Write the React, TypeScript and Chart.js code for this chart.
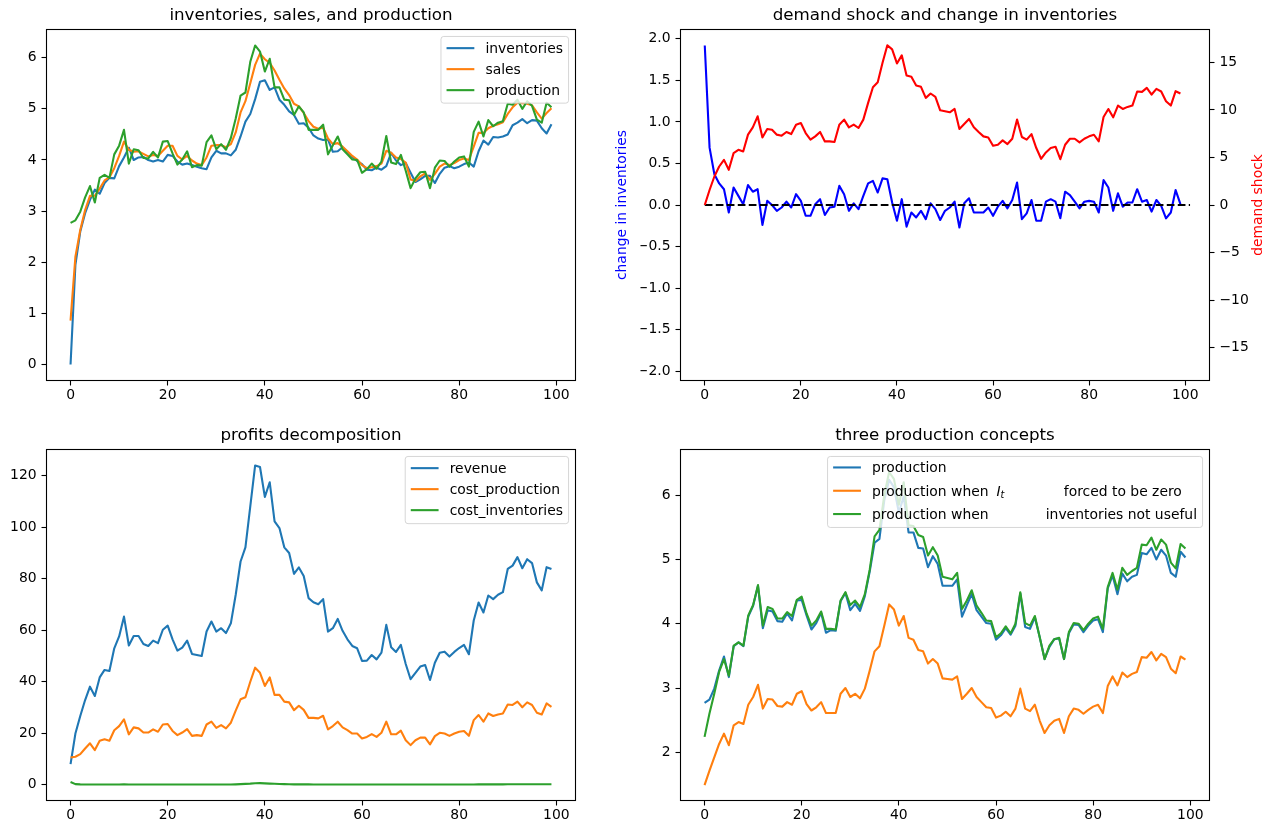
import React, { useEffect, useRef } from "react";
import { Chart, registerables } from "chart.js";

Chart.register(...registerables);

const FONT = '"DejaVu Sans", sans-serif';
const TICK_FS = 13.9;
const TITLE_FS = 16.7;

const C_BLUE = "#1f77b4";
const C_ORANGE = "#ff7f0e";
const C_GREEN = "#2ca02c";

// ---------------- data ----------------
const periods = Array.from({ length: 100 }, (_, i) => i);

const inventories = [
  0.0, 1.95, 2.6, 2.96, 3.22, 3.42, 3.34, 3.55, 3.65, 3.64,
  3.88, 4.05, 4.24, 4.0, 4.05, 4.06, 4.0, 3.97, 4.0, 3.97,
  4.1, 4.08, 3.97, 3.91, 3.93, 3.9, 3.87, 3.84, 3.82, 4.05,
  4.18, 4.13, 4.13, 4.09, 4.2, 4.46, 4.75, 4.9, 5.19, 5.53,
  5.56, 5.37, 5.42, 5.18, 5.08, 4.95, 4.88, 4.71, 4.72, 4.63,
  4.48, 4.42, 4.39, 4.4, 4.16, 4.17, 4.25, 4.15, 4.06, 3.98,
  3.92, 3.81, 3.8, 3.85, 3.81, 3.88, 4.14, 3.99, 3.9, 3.94,
  3.75, 3.57, 3.62, 3.69, 3.69, 3.55, 3.73, 3.85, 3.88, 3.84,
  3.87, 3.92, 3.95, 3.87, 4.17, 4.38, 4.3, 4.45, 4.44, 4.46,
  4.5, 4.68, 4.73, 4.8, 4.72, 4.78, 4.77, 4.62, 4.52, 4.7,
];

const sales = [
  0.86, 2.11, 2.63, 3.02, 3.3, 3.3, 3.44, 3.6, 3.66, 3.84,
  4.08, 4.36, 4.2, 4.16, 4.17, 4.12, 4.07, 4.1, 4.08, 4.18,
  4.28, 4.28, 4.08, 4.01, 4.08, 3.99, 3.93, 3.9, 4.05, 4.28,
  4.29, 4.29, 4.25, 4.31, 4.54, 4.93, 5.15, 5.5, 5.86, 6.08,
  5.97, 5.9, 5.75, 5.57, 5.4, 5.27, 5.1, 5.05, 4.92, 4.76,
  4.65, 4.61, 4.63, 4.42, 4.31, 4.33, 4.26, 4.17, 4.08, 4.01,
  3.9, 3.84, 3.86, 3.88, 3.93, 4.18, 4.14, 4.05, 4.02, 3.95,
  3.62, 3.59, 3.68, 3.74, 3.61, 3.73, 3.87, 3.93, 3.9, 3.94,
  4.0, 4.03, 4.0, 4.26, 4.53, 4.53, 4.62, 4.67, 4.7, 4.74,
  4.9, 5.03, 5.12, 5.11, 5.1, 5.07, 4.93, 4.81, 4.92, 5.01,
];

const production = [
  2.77, 2.82, 2.99, 3.27, 3.49, 3.17, 3.65, 3.71, 3.65, 4.11,
  4.28, 4.59, 3.93, 4.21, 4.19, 4.04, 4.03, 4.16, 4.05, 4.36,
  4.37, 4.13, 3.91, 4.01, 4.17, 3.86, 3.9, 3.89, 4.35, 4.48,
  4.21, 4.31, 4.2, 4.43, 4.81, 5.26, 5.32, 5.92, 6.24, 6.12,
  5.73, 5.98, 5.42, 5.42, 5.18, 5.17, 4.88, 5.05, 4.93, 4.59,
  4.59, 4.59, 4.69, 4.11, 4.29, 4.46, 4.21, 4.11, 4.01, 4.0,
  3.75, 3.82, 3.93, 3.83, 3.97, 4.47, 3.95, 3.92, 4.1, 3.79,
  3.45, 3.64, 3.76, 3.77, 3.45, 3.85, 3.99, 3.98, 3.87, 3.97,
  4.05, 4.07, 3.87, 4.55, 4.75, 4.46, 4.78, 4.66, 4.73, 4.76,
  5.1, 5.08, 5.18, 5.0, 5.15, 5.06, 4.79, 4.73, 5.12, 5.03,
];

const inventoryChange = [
  1.92, 0.69, 0.37, 0.26, 0.19, -0.09, 0.21, 0.11, 0.01, 0.24,
  0.16, 0.19, -0.24, 0.05, 0.0, -0.07, -0.03, 0.04, -0.03, 0.13,
  0.05, -0.13, -0.13, 0.01, 0.07, -0.12, -0.03, -0.02, 0.23, 0.13,
  -0.07, 0.02, -0.05, 0.11, 0.26, 0.29, 0.15, 0.32, 0.31, 0.03,
  -0.19, 0.07, -0.26, -0.09, -0.15, -0.07, -0.17, 0.02, -0.05, -0.18,
  -0.07, -0.03, 0.04, -0.27, 0.02, 0.08, -0.09, -0.09, -0.09, -0.03,
  -0.13, -0.02, 0.05, -0.04, 0.06, 0.27, -0.17, -0.1, 0.06, -0.19,
  -0.19, 0.04, 0.07, 0.04, -0.16, 0.16, 0.12, 0.04, -0.04, 0.04,
  0.05, 0.04, -0.09, 0.3, 0.21, -0.07, 0.14, -0.02, 0.03, 0.03,
  0.19, 0.04, 0.06, -0.08, 0.06, -0.01, -0.16, -0.09, 0.18, 0.01,
];

const demandShock = [
  0.0, 1.58, 3.0, 4.05, 4.75, 3.7, 5.46, 5.8, 5.63, 7.4,
  8.17, 9.33, 7.11, 8.0, 7.92, 7.4, 7.29, 7.68, 7.46, 8.45,
  8.63, 7.57, 6.87, 7.22, 7.68, 6.69, 6.69, 6.62, 8.45, 8.98,
  8.17, 8.45, 8.1, 8.98, 10.74, 12.39, 12.92, 14.96, 16.8, 16.37,
  14.89, 15.74, 13.63, 13.49, 12.57, 12.43, 11.27, 11.73, 11.37, 9.96,
  9.86, 9.75, 10.1, 8.0, 8.52, 9.05, 8.17, 7.68, 7.22, 7.11,
  6.23, 6.34, 6.8, 6.41, 6.97, 8.98, 7.15, 6.87, 7.46, 5.99,
  4.86, 5.53, 5.99, 6.13, 4.82, 6.34, 6.97, 6.97, 6.58, 6.97,
  7.22, 7.39, 6.69, 9.26, 10.1, 9.22, 10.46, 10.1, 10.32, 10.46,
  11.94, 11.9, 12.32, 11.62, 12.22, 11.94, 10.92, 10.46, 11.97, 11.73,
];

const zeroLineX = [0, 101];
const zeroLineY = [0, 0];

const revenue = [
  7.9, 19.8, 26.6, 32.8, 38.0, 34.4, 41.6, 44.5, 44.1, 52.9,
  57.5, 65.2, 54.0, 57.7, 57.7, 54.6, 53.8, 55.9, 54.9, 60.1,
  61.7, 56.4, 52.0, 53.2, 55.9, 50.7, 50.3, 49.9, 59.4, 63.3,
  59.4, 60.7, 58.8, 62.6, 73.7, 86.6, 92.1, 108.0, 123.9, 123.3,
  111.7, 117.4, 102.2, 99.6, 92.1, 89.9, 81.8, 84.3, 81.0, 72.4,
  70.8, 70.0, 72.0, 59.4, 60.7, 64.3, 59.7, 56.4, 53.8, 52.9,
  48.0, 48.1, 50.3, 48.6, 51.2, 62.0, 53.3, 51.5, 54.2, 46.8,
  40.9, 43.4, 45.8, 46.4, 40.6, 47.3, 51.2, 51.6, 49.7, 51.5,
  53.0, 54.2, 50.6, 63.7, 70.7, 66.8, 73.4, 72.0, 73.7, 74.7,
  83.7, 85.0, 88.3, 84.0, 87.5, 86.0, 78.5, 75.4, 84.4, 83.7,
];

const costProduction = [
  10.5, 10.8, 11.8, 14.0, 16.0, 13.4, 17.0, 17.6, 17.0, 21.1,
  22.7, 25.3, 19.5, 22.2, 21.8, 20.2, 20.2, 21.4, 20.5, 23.3,
  23.5, 20.8, 19.2, 20.2, 21.5, 18.9, 19.2, 18.9, 23.3, 24.4,
  22.0, 23.1, 21.8, 24.0, 28.7, 33.1, 33.9, 39.9, 45.4, 43.4,
  38.3, 41.6, 34.8, 34.8, 32.2, 31.9, 28.9, 30.6, 29.0, 25.9,
  25.9, 25.7, 26.7, 21.4, 22.7, 24.4, 22.2, 21.1, 19.8, 19.8,
  17.9, 18.5, 19.6, 18.5, 20.1, 24.4, 19.5, 19.5, 20.9, 17.2,
  15.3, 17.2, 18.2, 18.2, 15.6, 18.8, 20.1, 19.8, 18.9, 19.8,
  20.5, 20.8, 18.9, 25.0, 27.0, 24.4, 27.6, 26.6, 27.2, 27.6,
  31.1, 30.9, 32.2, 30.0, 31.9, 30.9, 27.9, 27.2, 31.5, 30.2,
];

const costInventories = [
  1.0, 0.15, 0.06, 0.04, 0.03, 0.03, 0.03, 0.03, 0.03, 0.03,
  0.04, 0.05, 0.04, 0.03, 0.03, 0.03, 0.03, 0.03, 0.03, 0.03,
  0.04, 0.04, 0.03, 0.03, 0.03, 0.03, 0.03, 0.03, 0.03, 0.04,
  0.04, 0.04, 0.04, 0.04, 0.08, 0.15, 0.25, 0.35, 0.5, 0.55,
  0.45, 0.35, 0.28, 0.2, 0.15, 0.1, 0.08, 0.06, 0.05, 0.05,
  0.04, 0.04, 0.04, 0.04, 0.03, 0.03, 0.03, 0.03, 0.03, 0.03,
  0.03, 0.03, 0.03, 0.03, 0.03, 0.03, 0.03, 0.03, 0.03, 0.03,
  0.03, 0.03, 0.03, 0.03, 0.03, 0.03, 0.03, 0.03, 0.03, 0.03,
  0.03, 0.03, 0.03, 0.04, 0.05, 0.05, 0.06, 0.06, 0.06, 0.08,
  0.09, 0.1, 0.1, 0.1, 0.1, 0.1, 0.09, 0.1, 0.1, 0.12,
];

const productionInventoriesZero = [
  1.49, 1.71, 1.92, 2.13, 2.29, 2.11, 2.42, 2.47, 2.44, 2.74,
  2.86, 3.05, 2.68, 2.83, 2.82, 2.72, 2.71, 2.78, 2.74, 2.91,
  2.95, 2.75, 2.65, 2.7, 2.78, 2.61, 2.61, 2.61, 2.91, 3.0,
  2.86, 2.91, 2.84, 2.99, 3.27, 3.57, 3.65, 3.97, 4.3, 4.22,
  3.97, 4.12, 3.78, 3.75, 3.59, 3.57, 3.38, 3.45, 3.38, 3.15,
  3.14, 3.13, 3.18, 2.83, 2.91, 3.0, 2.86, 2.78, 2.7, 2.69,
  2.54, 2.57, 2.63, 2.56, 2.68, 2.99, 2.68, 2.64, 2.74, 2.49,
  2.3, 2.42, 2.49, 2.52, 2.3, 2.56, 2.68, 2.66, 2.6, 2.66,
  2.71, 2.74, 2.61, 3.03, 3.18, 3.04, 3.24, 3.17, 3.22, 3.25,
  3.48, 3.47, 3.56, 3.43, 3.53, 3.48, 3.3, 3.23, 3.49, 3.44,
];

const productionNotUseful = [
  2.24, 2.6, 2.91, 3.25, 3.45, 3.19, 3.66, 3.71, 3.66, 4.13,
  4.29, 4.6, 3.97, 4.26, 4.23, 4.08, 4.08, 4.18, 4.12, 4.37,
  4.42, 4.16, 3.97, 4.05, 4.19, 3.92, 3.92, 3.91, 4.36, 4.49,
  4.29, 4.36, 4.26, 4.46, 4.84, 5.36, 5.46, 6.0, 6.36, 6.25,
  5.85, 6.2, 5.53, 5.52, 5.38, 5.35, 5.06, 5.19, 5.06, 4.73,
  4.71, 4.69, 4.79, 4.23, 4.36, 4.52, 4.28, 4.17, 4.05, 4.04,
  3.79, 3.85, 3.96, 3.85, 4.0, 4.49, 4.01, 3.97, 4.12, 3.79,
  3.45, 3.66, 3.76, 3.78, 3.45, 3.87, 4.01, 4.0, 3.9, 4.0,
  4.08, 4.11, 3.92, 4.57, 4.79, 4.53, 4.87, 4.76, 4.82, 4.87,
  5.23, 5.22, 5.34, 5.15, 5.31, 5.23, 4.95, 4.86, 5.24, 5.17,
];

// tick values / labels
const xTicks = [0, 20, 40, 60, 80, 100];
const xTickLabels = ["0", "20", "40", "60", "80", "100"];
const invTicks = [0, 1, 2, 3, 4, 5, 6];
const invTickLabels = ["0", "1", "2", "3", "4", "5", "6"];
const changeTicks = [-2, -1.5, -1, -0.5, 0, 0.5, 1, 1.5, 2];
const changeTickLabels = ["\u22122.0", "\u22121.5", "\u22121.0", "\u22120.5", "0.0", "0.5", "1.0", "1.5", "2.0"];
const shockTicks = [-15, -10, -5, 0, 5, 10, 15];
const shockTickLabels = ["\u221215", "\u221210", "\u22125", "0", "5", "10", "15"];
const profitTicks = [0, 20, 40, 60, 80, 100, 120];
const profitTickLabels = ["0", "20", "40", "60", "80", "100", "120"];
const conceptTicks = [2, 3, 4, 5, 6];
const conceptTickLabels = ["2", "3", "4", "5", "6"];

// ---------------- helpers ----------------
type Seg = { text: string; style?: "italic" | "sub"; dx?: number };
type LegendRow = { color: string; segs: Seg[] };
type LegendCfg = { rows: LegendRow[]; first: number; pitch: number; height: number };
type YLabel = { text: string; color: string; x: number };

function fontFor(style?: string) {
  if (style === "italic") return `italic ${TICK_FS}px ${FONT}`;
  if (style === "sub") return `italic ${(TICK_FS * 0.7).toFixed(2)}px ${FONT}`;
  return `${TICK_FS}px ${FONT}`;
}

function rowWidth(ctx: CanvasRenderingContext2D, segs: Seg[]) {
  let x = 0;
  for (const s of segs) {
    if (s.dx !== undefined) x = s.dx;
    ctx.font = fontFor(s.style);
    x += ctx.measureText(s.text).width;
  }
  return x;
}

function roundRectPath(ctx: CanvasRenderingContext2D, x: number, y: number, w: number, h: number, r: number) {
  ctx.beginPath();
  ctx.moveTo(x + r, y);
  ctx.lineTo(x + w - r, y);
  ctx.arcTo(x + w, y, x + w, y + r, r);
  ctx.lineTo(x + w, y + h - r);
  ctx.arcTo(x + w, y + h, x + w - r, y + h, r);
  ctx.lineTo(x + r, y + h);
  ctx.arcTo(x, y + h, x, y + h - r, r);
  ctx.lineTo(x, y + r);
  ctx.arcTo(x, y, x + r, y, r);
  ctx.closePath();
}

function drawLegend(ctx: CanvasRenderingContext2D, ca: any, lg: LegendCfg) {
  const fs = TICK_FS;
  const maxW = Math.max(...lg.rows.map((r) => rowWidth(ctx, r.segs)));
  const w = fs * 3.6 + maxW;
  const right = ca.right - fs * 0.5;
  const top = ca.top + fs * 0.5;
  const left = right - w;
  roundRectPath(ctx, left, top, w, lg.height, fs * 0.2);
  ctx.fillStyle = "rgba(255,255,255,0.8)";
  ctx.fill();
  ctx.strokeStyle = "rgba(204,204,204,0.8)";
  ctx.lineWidth = 1;
  ctx.stroke();
  lg.rows.forEach((row, i) => {
    const cy = top + lg.first + i * lg.pitch;
    ctx.beginPath();
    ctx.moveTo(left + fs * 0.4, cy);
    ctx.lineTo(left + fs * 2.4, cy);
    ctx.strokeStyle = row.color;
    ctx.lineWidth = 2.1;
    ctx.lineCap = "butt";
    ctx.stroke();
    const tx = left + fs * 3.2;
    let x = 0;
    ctx.fillStyle = "#000";
    ctx.textAlign = "left";
    ctx.textBaseline = "alphabetic";
    for (const s of row.segs) {
      if (s.dx !== undefined) x = s.dx;
      ctx.font = fontFor(s.style);
      ctx.fillText(s.text, tx + x, cy + 4.8 + (s.style === "sub" ? 2.8 : 0));
      x += ctx.measureText(s.text).width;
    }
  });
}

function makeDecor(cfg: { legend?: LegendCfg; yLabels?: YLabel[] }) {
  return {
    id: "mplDecor",
    afterDatasetsDraw(chart: any) {
      const ctx: CanvasRenderingContext2D = chart.ctx;
      const ca = chart.chartArea;
      ctx.save();
      ctx.strokeStyle = "#000";
      ctx.lineWidth = 1.1;
      ctx.strokeRect(ca.left, ca.top, ca.right - ca.left, ca.bottom - ca.top);
      for (const lab of cfg.yLabels || []) {
        ctx.save();
        ctx.translate(lab.x, (ca.top + ca.bottom) / 2);
        ctx.rotate(-Math.PI / 2);
        ctx.fillStyle = lab.color;
        ctx.font = `${TICK_FS}px ${FONT}`;
        ctx.textAlign = "center";
        ctx.textBaseline = "middle";
        ctx.fillText(lab.text, 0, 0);
        ctx.restore();
      }
      if (cfg.legend) drawLegend(ctx, ca, cfg.legend);
      ctx.restore();
    },
  };
}

function axis(o: {
  position: string;
  min: number;
  max: number;
  ticks: number[];
  labels: string[];
  isX?: boolean;
  size: number;
}) {
  return {
    type: "linear",
    position: o.position,
    min: o.min,
    max: o.max,
    offset: false,
    grid: {
      display: true,
      drawOnChartArea: false,
      drawTicks: true,
      tickLength: 5,
      tickWidth: 1.1,
      tickColor: "#000",
      color: "#000",
    },
    border: { display: false },
    ticks: {
      color: "#000",
      font: { family: FONT, size: TICK_FS },
      padding: o.isX ? 2 : 4.9,
      autoSkip: false,
      maxRotation: 0,
      minRotation: 0,
      callback: (_v: any, i: number) => o.labels[i],
    },
    afterBuildTicks: (scale: any) => {
      scale.ticks = o.ticks.map((v) => ({ value: v }));
    },
    afterFit: (scale: any) => {
      if (o.isX) scale.height = o.size;
      else scale.width = o.size;
    },
  };
}

function line(data: any[], color: string, extra: any = {}) {
  return {
    data,
    borderColor: color,
    backgroundColor: color,
    borderWidth: 2.1,
    pointRadius: 0,
    pointHoverRadius: 0,
    tension: 0,
    fill: false,
    borderJoinStyle: "round",
    borderCapStyle: "butt",
    ...extra,
  };
}

type Box = { L: number; T: number; R: number; B: number };
const Y_W = 40;
const X_H = 30;
const TITLE_BLOCK = TITLE_FS * 1.2 + 4;

function baseOptions(box: Box, title: string, hasRight: boolean) {
  return {
    responsive: false,
    maintainAspectRatio: false,
    animation: false,
    events: [],
    layout: {
      autoPadding: false,
      padding: {
        left: box.L - Y_W,
        top: box.T - TITLE_BLOCK,
        right: 1277 - box.R - (hasRight ? Y_W : 0),
        bottom: 834 - box.B - X_H,
      },
    },
    plugins: {
      legend: { display: false },
      tooltip: { enabled: false },
      title: {
        display: true,
        text: title,
        color: "#000",
        fullSize: false,
        font: { family: FONT, size: TITLE_FS, weight: "normal", lineHeight: 1.2 },
        padding: { top: 0, bottom: 4 },
      },
    },
  };
}

const BOX1: Box = { L: 46.5, T: 29.5, R: 575.5, B: 380.5 };
const BOX2: Box = { L: 680.5, T: 29.5, R: 1209.5, B: 380.5 };
const BOX3: Box = { L: 46.5, T: 449.5, R: 575.5, B: 800.5 };
const BOX4: Box = { L: 680.5, T: 449.5, R: 1209.5, B: 800.5 };

function config1(): any {
  return {
    type: "line",
    data: {
      labels: periods,
      datasets: [
        line(production, C_GREEN),
        line(sales, C_ORANGE),
        line(inventories, C_BLUE),
      ],
    },
    options: {
      ...baseOptions(BOX1, "inventories, sales, and production", false),
      scales: {
        x: axis({ position: "bottom", min: -4.95, max: 103.95, ticks: xTicks, labels: xTickLabels, isX: true, size: X_H }),
        y: axis({ position: "left", min: -0.312, max: 6.552, ticks: invTicks, labels: invTickLabels, size: Y_W }),
      },
    },
    plugins: [
      makeDecor({
        legend: {
          first: 11.7,
          pitch: 21,
          height: 66.7,
          rows: [
            { color: C_BLUE, segs: [{ text: "inventories" }] },
            { color: C_ORANGE, segs: [{ text: "sales" }] },
            { color: C_GREEN, segs: [{ text: "production" }] },
          ],
        },
      }),
    ],
  };
}

function config2(): any {
  const zeroLine = zeroLineX.map((x, i) => ({ x, y: zeroLineY[i] }));
  return {
    type: "line",
    data: {
      labels: periods,
      datasets: [
        line(demandShock, "#ff0000", { yAxisID: "y2" }),
        line(zeroLine, "#000000", { yAxisID: "y", borderDash: [7.7, 3.3] }),
        line(inventoryChange, "#0000ff", { yAxisID: "y" }),
      ],
    },
    options: {
      ...baseOptions(BOX2, "demand shock and change in inventories", true),
      scales: {
        x: axis({ position: "bottom", min: -5.05, max: 105.05, ticks: xTicks, labels: xTickLabels, isX: true, size: X_H }),
        y: axis({ position: "left", min: -2.112, max: 2.112, ticks: changeTicks, labels: changeTickLabels, size: Y_W }),
        y2: axis({ position: "right", min: -18.46, max: 18.46, ticks: shockTicks, labels: shockTickLabels, size: Y_W }),
      },
    },
    plugins: [
      makeDecor({
        yLabels: [
          { text: "change in inventories", color: "#0000ff", x: 622.6 },
          { text: "demand shock", color: "#ff0000", x: 1258.7 },
        ],
      }),
    ],
  };
}

function config3(): any {
  return {
    type: "line",
    data: {
      labels: periods,
      datasets: [
        line(costInventories, C_GREEN),
        line(costProduction, C_ORANGE),
        line(revenue, C_BLUE),
      ],
    },
    options: {
      ...baseOptions(BOX3, "profits decomposition", false),
      scales: {
        x: axis({ position: "bottom", min: -4.95, max: 103.95, ticks: xTicks, labels: xTickLabels, isX: true, size: X_H }),
        y: axis({ position: "left", min: -6.2, max: 130.1, ticks: profitTicks, labels: profitTickLabels, size: Y_W }),
      },
    },
    plugins: [
      makeDecor({
        legend: {
          first: 11.7,
          pitch: 21,
          height: 67.2,
          rows: [
            { color: C_BLUE, segs: [{ text: "revenue" }] },
            { color: C_ORANGE, segs: [{ text: "cost_production" }] },
            { color: C_GREEN, segs: [{ text: "cost_inventories" }] },
          ],
        },
      }),
    ],
  };
}

function config4(): any {
  return {
    type: "line",
    data: {
      labels: periods,
      datasets: [
        line(productionNotUseful, C_GREEN),
        line(productionInventoriesZero, C_ORANGE),
        line(production, C_BLUE),
      ],
    },
    options: {
      ...baseOptions(BOX4, "three production concepts", false),
      scales: {
        x: axis({ position: "bottom", min: -4.95, max: 103.95, ticks: xTicks, labels: xTickLabels, isX: true, size: X_H }),
        y: axis({ position: "left", min: 1.25, max: 6.71, ticks: conceptTicks, labels: conceptTickLabels, size: Y_W }),
      },
    },
    plugins: [
      makeDecor({
        legend: {
          first: 11,
          pitch: 23.3,
          height: 71,
          rows: [
            { color: C_BLUE, segs: [{ text: "production" }] },
            {
              color: C_ORANGE,
              segs: [
                { text: "production when" },
                { text: "I", style: "italic", dx: 124.4 },
                { text: "t", style: "sub" },
                { text: "forced to be zero", dx: 191.7 },
              ],
            },
            {
              color: C_GREEN,
              segs: [
                { text: "production when" },
                { text: "inventories not useful", dx: 173.7 },
              ],
            },
          ],
        },
      }),
    ],
  };
}

export default function App() {
  const r1 = useRef<HTMLCanvasElement>(null);
  const r2 = useRef<HTMLCanvasElement>(null);
  const r3 = useRef<HTMLCanvasElement>(null);
  const r4 = useRef<HTMLCanvasElement>(null);

  useEffect(() => {
    const charts = [
      new Chart(r1.current as HTMLCanvasElement, config1()),
      new Chart(r2.current as HTMLCanvasElement, config2()),
      new Chart(r3.current as HTMLCanvasElement, config3()),
      new Chart(r4.current as HTMLCanvasElement, config4()),
    ];
    return () => charts.forEach((c) => c.destroy());
  }, []);

  const cs: React.CSSProperties = { position: "absolute", left: 0, top: 0, width: 1277, height: 834 };
  return (
    <div style={{ position: "absolute", left: 0, top: 0, width: 1277, height: 834, background: "#fff", overflow: "hidden" }}>
      <canvas ref={r1} width={1277} height={834} style={cs} />
      <canvas ref={r2} width={1277} height={834} style={cs} />
      <canvas ref={r3} width={1277} height={834} style={cs} />
      <canvas ref={r4} width={1277} height={834} style={cs} />
    </div>
  );
}
